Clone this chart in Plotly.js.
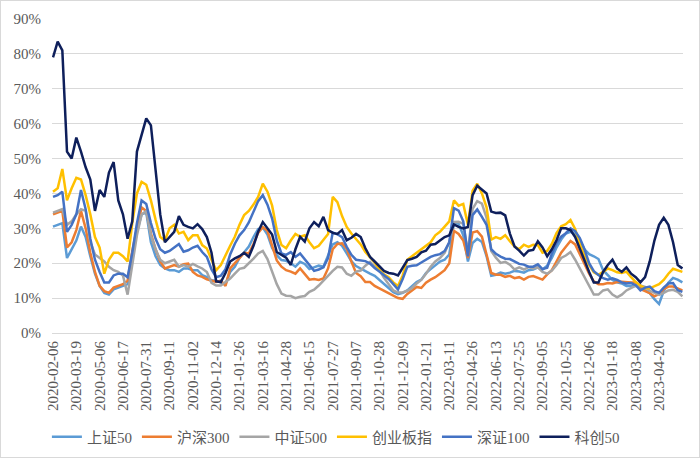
<!DOCTYPE html>
<html><head><meta charset="utf-8">
<script src="https://cdn.plot.ly/plotly-3.0.1.min.js"></script>
<style>
html,body{margin:0;padding:0;background:#fff;}
#wrap{position:relative;width:700px;height:458px;}
#chart{width:700px;height:458px;}
#frame{position:absolute;left:0;top:0;width:700px;height:458px;box-sizing:border-box;border:1px solid #D9D9D9;pointer-events:none;}
</style>
</head><body>
<div id="wrap"><div id="chart"></div><div id="frame"></div></div>
<script>
// Tick labels (every 30 trading days)
const tickLabels = ['2020-02-06','2020-03-19','2020-05-06','2020-06-17','2020-07-31','2020-09-11','2020-11-02','2020-12-14','2021-01-26','2021-03-16','2021-04-28','2021-06-15','2021-07-27','2021-09-07','2021-10-28','2021-12-09','2022-01-21','2022-03-11','2022-04-26','2022-06-13','2022-07-25','2022-09-05','2022-10-25','2022-12-06','2023-01-18','2023-03-08','2023-04-20'];
const TICK_STEP = 30;   // trading days between labels
const SAMPLE_STEP = 6;  // trading days between samples

const seriesNames = ['上证50','沪深300','中证500','创业板指','深证100','科创50'];

// Volatility (%) sampled every 6 trading days
const sz50 = [30.5,31,31.5,21.5,24,26.5,30.5,27.5,22,17,
13.5,11.5,11,12.5,13,13.5,14,21.5,29,34,
34.5,26,22,19.5,18.5,18,18,17.5,18.5,18.5,
18,18,16.6,16,15.1,15,14.6,14,17.5,19,
21.5,23.2,24.8,27.5,29.8,30.2,28.2,24.4,22.3,20.9,
20.7,20,19,20.4,19.8,18.3,18.8,19.3,19,22.4,
25.4,26,25,22.8,20.6,19.2,18.4,17.7,17,16.4,
15.3,14,12.9,11.7,11.1,11.5,12.2,13.4,14.6,15.3,
17.2,18.3,19.5,20.5,21,22.5,31.6,31.3,28,20.5,
25.8,27,26.1,22,16.4,16.7,17.3,17,17.3,17.8,
17.6,17.3,18,18.2,18.8,18.2,19.3,21.5,24.5,26.8,
28.5,29,28.4,26.5,24,22.6,22,21.2,18,16.5,
15.2,14.5,14.2,13.5,13.5,13.5,13.2,12.2,11.4,9.7,
8.3,12,14.4,15.8,15.3,14.5];

const hs300 = [34,34.5,35,24.5,26,29.5,35,30,23,17.5,
13.5,12,11.5,13,13.5,14,15,23.5,30,36,
35,28.5,24,20.5,18.5,19,19.5,19,19.7,19.9,
17.5,16.5,16.1,15.4,15.1,14.6,15,13.5,18.5,19.9,
21.5,23,22.8,25.5,28.7,30.3,29.3,25.3,20.8,19,
18,17.6,17,18.5,17,15.3,15.5,15.2,15.6,18.5,
24,25.5,25.7,24.2,20.5,17.2,16.3,14.6,14.6,13.5,
12.8,12.1,11.5,10.8,10,9.8,11.2,12.2,13.2,12.9,
14.4,15.3,16,17,18,20,29.3,28.4,26.5,21.5,
28.8,29.2,27.6,22.5,17.2,16.7,16.7,16.1,16.4,15.7,
16,15.3,16.1,16.3,15.7,15.3,16.8,18,20.5,23,
24.7,26.4,25.4,22.7,20,17,14.8,14,14,14.3,
14.2,14.6,14.7,14.5,14.5,14.5,12.6,12,11.4,10.5,
11.2,12.6,13.3,13.3,12.8,12.2];

const zz500 = [34.5,35,35.5,31,32,34,35.5,35,26,22.5,
21.5,20.5,19,18,17.5,16.5,11,19,28,34,
35,28,24,21,20,20.5,21,19,19.5,19,
19.8,19.1,18.5,17.5,14.4,13.6,13.6,14.6,15.6,17,
18.4,18.7,19.9,21.3,22.8,23.5,21.2,17.8,14,11.3,
10.7,10.6,10,10.4,10.6,11.8,12.4,13.6,15.1,16.5,
17.8,19,18.8,17,16.4,17.6,17.9,19.3,20.4,19.1,
18.1,15.8,13.9,12.2,11.6,11.6,12.1,12.9,14.2,15.2,
17,19,20.5,21.5,23,26,31.8,31.9,31.3,23,
35.6,37.8,37.1,33,23.5,21.6,20.1,20.4,19.6,18.2,
18.8,18.2,18.9,18.5,18.8,17.5,17,17.9,19.5,21.5,
22.2,23.2,21,18.4,16,13.5,11,11,12.2,12.5,
11,10.2,11,12.2,13,13.6,13.6,13.2,12.1,11.4,
10.9,11.5,12.2,12.4,11.8,10.5];

const cybz = [40.5,41.5,47,38,41.5,44.5,44,39.5,34,27.5,
24.5,17,21,23,23,22,20.5,31.5,40,43.3,
42.5,38,32.5,27.5,26.5,30,31,28.5,29,26.6,
28,28,25.2,24.2,21,18,19.5,22.5,25,27.6,
31,33.8,35,36.8,39,42.8,40.5,36.5,29.5,25.2,
24.3,26.5,28.4,27.6,28,26,24.3,25,26.6,28.4,
39,37.5,33.5,30.4,28.5,26.8,25.4,23.2,21.8,20.2,
18.2,16.8,16,14.5,13.5,16.5,21,22,22.8,24,
25,26,28,29,30.5,32,38,36.5,37,31,
40.8,42.8,40,36,26.8,27.5,27,28,26.3,24.8,
24,25.3,24.7,25.3,25.2,23,23.5,25.5,28.6,30.6,
31.2,32.4,29.8,25.5,22.2,19.5,17.4,16.7,17.5,18.5,
18,17.4,17.2,17.6,16,14.6,13.6,12.8,12.8,13.3,
14,15.2,17,18.4,18,17.5];

const sz100 = [39,39.5,40.5,29,31,34,41,35.5,27,21,
17.5,14.5,14.5,16.5,17,17,16,23,31.5,38,
37,31.5,27,24,23,23.5,24.5,25.5,23.3,23.7,
24.5,25,23.2,21.8,18.2,16,16.4,18.3,22.5,25.6,
28,29.5,31.7,34.8,37.8,39.5,36.8,32.8,26.5,22.8,
22.4,23.2,21.8,22.8,21.2,19.5,17.8,18.2,18.8,21.5,
28.8,28.3,27.5,24.7,22.4,21,20.9,20.6,19.9,18.6,
17.6,16.5,15.5,14,12.5,15.5,19,19.3,19.4,20.2,
21,21.8,22.3,22.6,23.5,26,35.8,35.1,32,22,
33.8,35.4,33.3,31,24,22.7,21.9,21.3,21.2,20.5,
19.8,19.6,19,19,19.7,18.3,18.7,22.8,25.7,27.6,
28.6,30,29.2,27.2,24,20,17.7,16.6,15.7,15.3,
15.7,15.2,14.5,14.2,14.3,13.7,12.2,13,13.3,12,
11.5,13,14.2,14.3,12.3,11.8];

const kc50 = [79,83.5,81,52,50,56,52,47.5,44,35,
41,39,46,49,38,34,27,32,52,57,
61.5,59.5,47.5,34,26,27.5,29,33.5,31,30.4,
30,31.2,29.8,27.5,23,14.8,14.6,17.2,20.5,21.4,
22,23,21.8,25,29,31.8,30.1,28.2,23.2,22.5,
21.6,19.5,24,27.6,26.2,30,31.8,30.6,33.3,29.5,
28.7,28.4,29.5,26.6,27.3,28.4,27.5,24.3,21.8,20.5,
19.2,17.8,17.2,17,16.5,18.8,20.9,21.3,21.8,23.1,
23.6,25.3,25.5,26.5,27.5,28,31.1,30.4,30,30.4,
39.5,42.2,41,40,34.8,34.4,34.5,33.7,28.5,24.8,
23.6,22.2,23.6,23.8,26.3,24.5,22,24,26.6,30,
30,29.5,27.5,24,21,17.5,14.5,14.5,17.5,19.5,
21,18.5,17.5,18.8,17,16,14.5,16,20.5,26.5,
31,33,31,26,19.5,18.5];

const seriesValues = [sz50, hs300, zz500, cybz, sz100, kc50];
const seriesColors = ['#5B9BD5','#ED7D31','#A5A5A5','#FFC000','#4472C4','#0E1F5B'];

const traces = seriesValues.map((vals, s) => ({
  type: 'scatter',
  mode: 'lines',
  name: seriesNames[s],
  x: vals.map((_, i) => i * SAMPLE_STEP),
  y: vals,
  line: {color: seriesColors[s], width: 2.5}
}));

const FONT = "'Liberation Serif','Noto Sans CJK SC',serif";
const layout = {
  width: 700, height: 458,
  margin: {l: 52, r: 17, t: 19, b: 125},
  paper_bgcolor: '#ffffff', plot_bgcolor: '#ffffff',
  font: {family: FONT, size: 15, color: '#595959'},
  xaxis: {
    range: [-1.3, 810.8],
    tickmode: 'array',
    tickvals: tickLabels.map((_, i) => i * TICK_STEP),
    ticktext: tickLabels,
    tickangle: -90,
    showgrid: false, zeroline: false, showline: false, ticks: '',
    ticklabelstandoff: 4,
    tickfont: {family: FONT, size: 15, color: '#595959'}
  },
  yaxis: {
    range: [0, 90], tick0: 0, dtick: 10, ticksuffix: '%',
    gridcolor: '#D9D9D9', gridwidth: 1,
    zeroline: true, zerolinecolor: '#D9D9D9', zerolinewidth: 1,
    showline: false, ticks: '',
    ticklabelstandoff: 10,
    tickfont: {family: FONT, size: 15, color: '#595959'}
  },
  showlegend: true,
  legend: {
    orientation: 'h', xref: 'container', yref: 'container',
    x: 0.067, y: 0.046, xanchor: 'left', yanchor: 'middle',
    font: {family: FONT, size: 15, color: '#595959'},
    bgcolor: 'rgba(0,0,0,0)'
  }
};

Plotly.newPlot('chart', traces, layout, {staticPlot: true, displayModeBar: false});
</script>
</body></html>
